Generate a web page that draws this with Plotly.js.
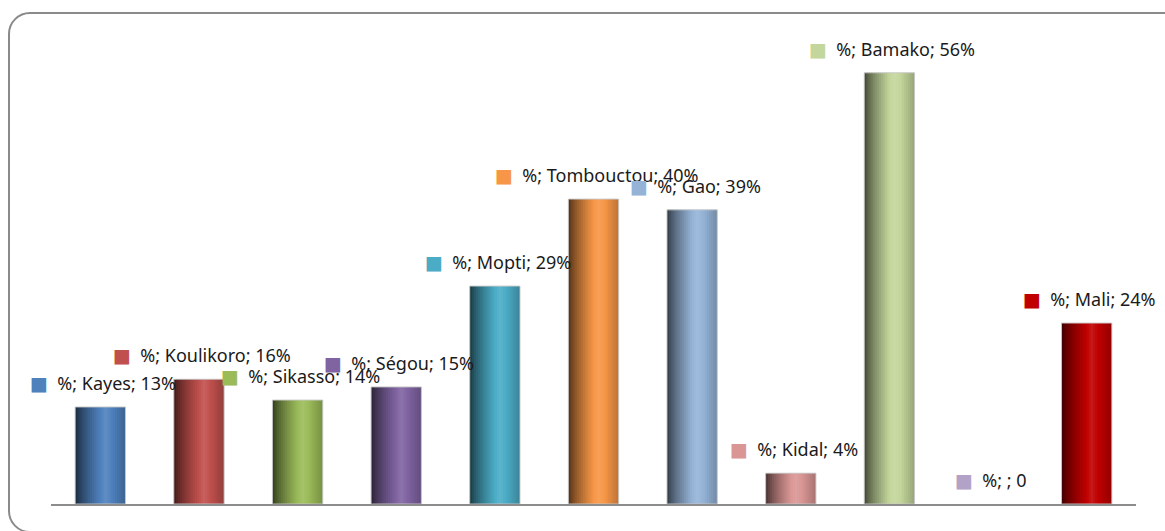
<!DOCTYPE html>
<html><head><meta charset="utf-8">
<script src="https://cdn.plot.ly/plotly-3.0.1.min.js"></script>
<style>
html,body{margin:0;padding:0;background:#fff;overflow:hidden}
#chart{position:absolute;left:0;top:0;width:1165px;height:531px}
#frame{position:absolute;left:8px;top:12px;width:1200px;height:521px;border:2px solid #8a8a8a;border-radius:22px;box-sizing:border-box;pointer-events:none}
</style></head><body>
<div id="chart"></div><div id="frame"></div>
<script>
// ---- data ----
const categories = ["Kayes","Koulikoro","Sikasso","Ségou","Mopti","Tombouctou","Gao","Kidal","Bamako"," ","Mali"];
const values = [12.6, 16.2, 13.5, 15.2, 28.3, 39.6, 38.2, 4.0, 56, 0, 23.5];
const labels = ["%; Kayes; 13%","%; Koulikoro; 16%","%; Sikasso; 14%","%; Ségou; 15%","%; Mopti; 29%","%; Tombouctou; 40%","%; Gao; 39%","%; Kidal; 4%","%; Bamako; 56%","%; ; 0","%; Mali; 24%"];
const colors = ["#4F81BD","#C0504D","#9BBB59","#8064A2","#4BACC6","#F79646","#95B3D7","#D99694","#C3D69B","#B3A2C7","#C00000"];

// ---- shading helpers (cylinder look) ----
function hexToRgb(h){h=h.replace('#','');return [parseInt(h.substr(0,2),16),parseInt(h.substr(2,2),16),parseInt(h.substr(4,2),16)];}
function shade(hex,k){
  const c=hexToRgb(hex);
  let r;
  if(k<=1){r=c.map(v=>Math.round(v*k));}
  else{const m=k-1;r=c.map(v=>Math.round(v+(255-v)*m));}
  return 'rgb('+r.join(',')+')';
}
function factor(t){
  if(t<0.6){return 0.3+0.8*Math.pow(t/0.6,0.75);}
  return 1.1-0.33*((t-0.6)/0.4);
}

const W = 0.51;     // bar width in category units
const N = 24;       // strips per bar
const sw = W/N;
const traces = [];
for(let i=0;i<N;i++){
  const t=(i+0.5)/N;
  traces.push({
    type:'bar', x:categories, y:values,
    offset: -W/2 + i*sw,
    width: (i===N-1)? sw : sw*1.7,
    marker:{color: colors.map(c=>shade(c,factor(t))), line:{width:0}},
    hoverinfo:'skip', showlegend:false
  });
}
traces.push({
  type:'bar', x:categories, y:values, offset:-W/2, width:W,
  marker:{color:'rgba(0,0,0,0)', line:{width:1, color:values.map(v=>v>0?'rgba(200,200,200,0.9)':'rgba(0,0,0,0)')}},
  hoverinfo:'skip', showlegend:false
});

const annotations = categories.map((c,i)=>({
  x:c, y:values[i], xref:'x', yref:'y',
  text:'<span style="color:'+colors[i]+';font-size:19px">■</span>\u00a0\u00a0'+labels[i],
  showarrow:false, xanchor:'center', yanchor:'middle', xshift:3, yshift:24,
  font:{family:'"Noto Sans", "DejaVu Sans", sans-serif', size:18, color:'#1a1a1a'}
}));

const layout = {
  width:1165, height:531,
  margin:{l:51, r:29, t:42, b:27, pad:0},
  paper_bgcolor:'#ffffff', plot_bgcolor:'rgba(0,0,0,0)',
  barmode:'overlay',
  showlegend:false,
  xaxis:{type:'category', range:[-0.5,10.5], showline:true, linecolor:'#8c8c8c', linewidth:2,
         showticklabels:false, ticks:'', showgrid:false, zeroline:false, fixedrange:true},
  yaxis:{range:[0,60], visible:false, showgrid:false, zeroline:false, fixedrange:true},
  annotations:annotations
};
Plotly.newPlot('chart', traces, layout, {displayModeBar:false, staticPlot:true});
</script>
</body></html>
